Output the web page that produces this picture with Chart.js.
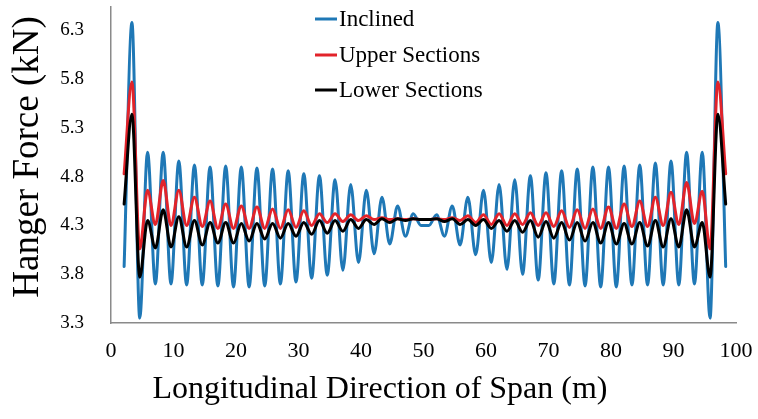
<!DOCTYPE html>
<html>
<head>
<meta charset="utf-8">
<script src="https://cdn.jsdelivr.net/npm/chart.js@4.4.1/dist/chart.umd.min.js"></script>
<style>
  html, body { margin: 0; padding: 0; background: #fff; }
  #wrap { width: 758px; height: 419px; }
</style>
</head>
<body>
<div id="wrap"><canvas id="hangerChart" width="758" height="419"></canvas></div>
<script>
// Hanger positions along the span (m)
const positions = [
  2.1, 3.35, 4.6, 5.85, 7.1, 8.35, 9.6, 10.85, 12.1, 13.35,
  14.6, 15.85, 17.1, 18.35, 19.6, 20.85, 22.1, 23.35, 24.6, 25.85,
  27.1, 28.35, 29.6, 30.85, 32.1, 33.35, 34.6, 35.85, 37.1, 38.35,
  39.6, 40.85, 42.1, 43.35, 44.6, 45.85, 47.1, 48.35, 49.6, 50.85,
  52.1, 53.35, 54.6, 55.85, 57.1, 58.35, 59.6, 60.85, 62.1, 63.35,
  64.6, 65.85, 67.1, 68.35, 69.6, 70.85, 72.1, 73.35, 74.6, 75.85,
  77.1, 78.35, 79.6, 80.85, 82.1, 83.35, 84.6, 85.85, 87.1, 88.35,
  89.6, 90.85, 92.1, 93.35, 94.6, 95.85, 97.1, 98.35
];

// Hanger force (kN)
const inclined = [
  3.88, 6.38, 3.35, 5.05, 3.70, 5.05, 3.70, 4.96, 3.69, 4.92,
  3.69, 4.90, 3.68, 4.91, 3.67, 4.90, 3.67, 4.89, 3.68, 4.88,
  3.70, 4.86, 3.72, 4.83, 3.76, 4.81, 3.79, 4.77, 3.84, 4.72,
  3.92, 4.66, 4.01, 4.59, 4.11, 4.50, 4.19, 4.42, 4.30, 4.30,
  4.41, 4.19, 4.50, 4.10, 4.59, 4.00, 4.66, 3.92, 4.72, 3.85,
  4.77, 3.80, 4.81, 3.74, 4.84, 3.70, 4.86, 3.69, 4.88, 3.68,
  4.90, 3.67, 4.90, 3.67, 4.91, 3.69, 4.92, 3.69, 4.94, 3.69,
  4.96, 3.69, 5.05, 3.70, 5.05, 3.35, 6.38, 3.88
];
const upperSections = [
  4.83, 5.77, 4.06, 4.66, 4.31, 4.76, 4.30, 4.66, 4.30, 4.59,
  4.29, 4.55, 4.27, 4.52, 4.27, 4.50, 4.27, 4.49, 4.27, 4.47,
  4.27, 4.46, 4.28, 4.45, 4.30, 4.42, 4.33, 4.42, 4.34, 4.41,
  4.35, 4.40, 4.36, 4.38, 4.36, 4.37, 4.36, 4.37, 4.36, 4.36,
  4.37, 4.36, 4.38, 4.35, 4.40, 4.33, 4.41, 4.31, 4.42, 4.30,
  4.42, 4.31, 4.43, 4.30, 4.43, 4.29, 4.45, 4.28, 4.46, 4.27,
  4.47, 4.27, 4.49, 4.27, 4.52, 4.29, 4.55, 4.29, 4.59, 4.30,
  4.64, 4.31, 4.74, 4.32, 4.65, 4.06, 5.77, 4.83
];
const lowerSections = [
  4.52, 5.44, 3.77, 4.35, 4.07, 4.46, 4.08, 4.39, 4.08, 4.35,
  4.10, 4.33, 4.12, 4.33, 4.12, 4.32, 4.14, 4.32, 4.16, 4.32,
  4.17, 4.32, 4.19, 4.33, 4.21, 4.35, 4.22, 4.35, 4.24, 4.36,
  4.27, 4.36, 4.31, 4.37, 4.33, 4.37, 4.35, 4.37, 4.36, 4.36,
  4.37, 4.34, 4.37, 4.31, 4.36, 4.30, 4.36, 4.27, 4.35, 4.24,
  4.35, 4.23, 4.35, 4.18, 4.34, 4.17, 4.33, 4.15, 4.33, 4.14,
  4.33, 4.12, 4.33, 4.11, 4.32, 4.11, 4.33, 4.09, 4.35, 4.08,
  4.37, 4.08, 4.46, 4.08, 4.33, 3.77, 5.44, 4.52
];

const xTicks = [0, 10, 20, 30, 40, 50, 60, 70, 80, 90, 100];
const yTicks = [3.3, 3.8, 4.3, 4.8, 5.3, 5.8, 6.3];

const xTitle = 'Longitudinal Direction of Span (m)';
const yTitle = 'Hanger Force (kN)';

const SERIF = '"Liberation Serif", "Times New Roman", serif';

function toPoints(values) {
  return values.map((v, i) => ({ x: positions[i], y: v }));
}

// legend drawn inside the plot, top centre
const insideLegend = {
  id: 'insideLegend',
  afterDraw(chart) {
    const ctx = chart.ctx;
    const x0 = 315;
    const rows = [19, 55, 90];
    ctx.save();
    ctx.font = '23px ' + SERIF;
    ctx.textBaseline = 'middle';
    ctx.textAlign = 'left';
    const sets = chart.data.datasets.slice().sort((a, b) => a.legendIndex - b.legendIndex);
    sets.forEach((ds, k) => {
      const y = rows[k];
      ctx.strokeStyle = ds.borderColor;
      ctx.lineWidth = 3;
      ctx.beginPath();
      ctx.moveTo(x0, y);
      ctx.lineTo(x0 + 22, y);
      ctx.stroke();
      ctx.fillStyle = '#000';
      ctx.fillText(ds.label, x0 + 24, y + 1);
    });
    ctx.restore();
  }
};

// axis titles (x title is centred on the whole figure)
const axisTitles = {
  id: 'axisTitles',
  afterDraw(chart) {
    const ctx = chart.ctx;
    ctx.save();
    ctx.fillStyle = '#000';
    ctx.textAlign = 'center';
    ctx.textBaseline = 'middle';
    ctx.font = '32px ' + SERIF;
    ctx.fillText(xTitle, 380, 390);
    ctx.translate(28, 157);
    ctx.rotate(-Math.PI / 2);
    ctx.font = '37px ' + SERIF;
    ctx.fillText(yTitle, 0, 0);
    ctx.restore();
  }
};

function noPadding(axis) {
  axis.paddingTop = 0;
  axis.paddingBottom = 0;
  axis.paddingLeft = 0;
  axis.paddingRight = 0;
}

const ctx = document.getElementById('hangerChart').getContext('2d');
new Chart(ctx, {
  type: 'line',
  data: {
    datasets: [
      {
        label: 'Lower Sections',
        legendIndex: 2,
        data: toPoints(lowerSections),
        borderColor: '#000000',
        borderWidth: 3,
        order: 1
      },
      {
        label: 'Upper Sections',
        legendIndex: 1,
        data: toPoints(upperSections),
        borderColor: '#e2232a',
        borderWidth: 3,
        order: 2
      },
      {
        label: 'Inclined',
        legendIndex: 0,
        data: toPoints(inclined),
        borderColor: '#1f78b6',
        borderWidth: 3,
        order: 3
      }
    ]
  },
  options: {
    responsive: false,
    animation: false,
    devicePixelRatio: 1,
    layout: { padding: { top: 7, right: 22, left: 0, bottom: 0 } },
    elements: {
      point: { radius: 0 },
      line: { cubicInterpolationMode: 'monotone', fill: false, borderCapStyle: 'round', borderJoinStyle: 'round' }
    },
    datasets: { line: { clip: false } },
    plugins: {
      legend: { display: false },
      tooltip: { enabled: false }
    },
    scales: {
      x: {
        type: 'linear',
        min: 0,
        max: 100,
        grid: { display: false, drawTicks: false },
        border: { display: true, color: '#8a8a8a', width: 1.5 },
        afterBuildTicks: (axis) => { axis.ticks = xTicks.map(v => ({ value: v })); },
        afterFit: (axis) => { axis.height = 96; noPadding(axis); },
        ticks: {
          color: '#000',
          padding: 15,
          maxRotation: 0,
          font: { family: SERIF, size: 22 }
        }
      },
      y: {
        type: 'linear',
        min: 3.3,
        max: 6.54,
        grid: { display: false, drawTicks: false },
        border: { display: true, color: '#8a8a8a', width: 1.5 },
        afterBuildTicks: (axis) => { axis.ticks = yTicks.map(v => ({ value: v })); },
        afterFit: (axis) => { axis.width = 111; noPadding(axis); },
        ticks: {
          color: '#000',
          padding: 27,
          font: { family: SERIF, size: 19 },
          callback: (v) => Number(v).toFixed(1)
        }
      }
    }
  },
  plugins: [insideLegend, axisTitles]
});
</script>
</body>
</html>
